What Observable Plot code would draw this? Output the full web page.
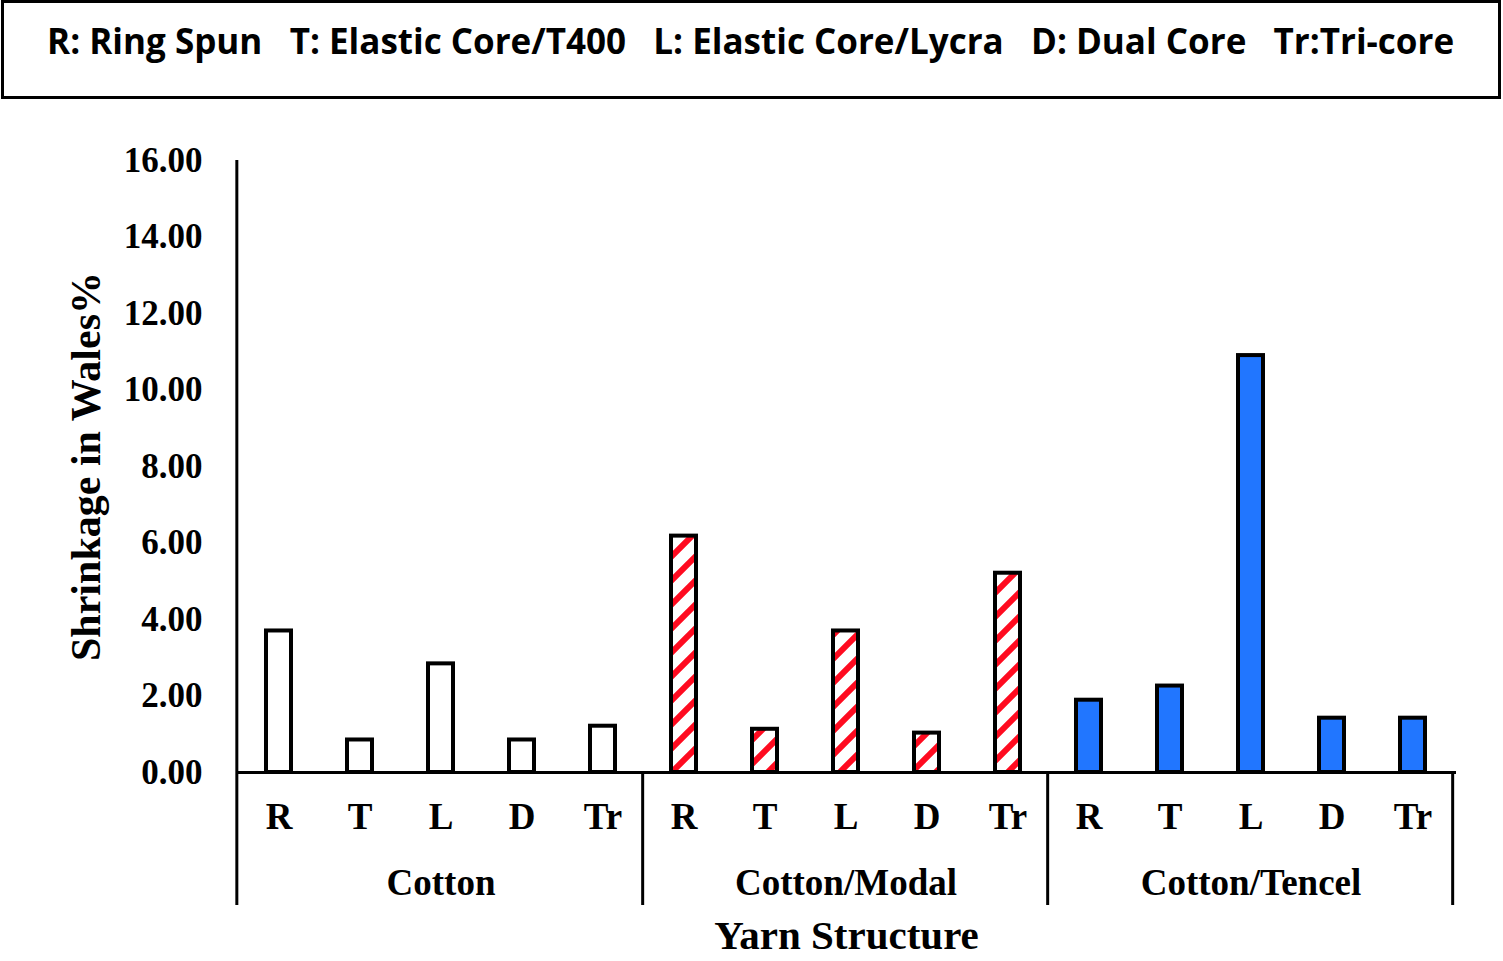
<!DOCTYPE html>
<html>
<head>
<meta charset="utf-8">
<script src="https://cdn.jsdelivr.net/npm/d3@7"></script>
<script src="https://cdn.jsdelivr.net/npm/@observablehq/plot@0.6"></script>
<style>
  html, body { margin: 0; padding: 0; background: #fff; }
  #legend { position: absolute; left: 1px; top: 0px; width: 1500px; height: 99px; border: 3px solid #000; box-sizing: border-box; text-align: center; padding-top: 20px; }
  #legendText { font-family: "Open Sans", "DejaVu Sans", sans-serif; font-weight: 700; font-size: 36px; line-height: 1; white-space: pre; display: inline-block; color: #000; }
  #chart { position: absolute; left: 0; top: 100px; }
</style>
</head>
<body>
<div id="legend"><span id="legendText"></span></div>
<div id="chart"></div>
<script>
const legendItems = ["R: Ring Spun", "T: Elastic Core/T400", "L: Elastic Core/Lycra", "D: Dual Core", "Tr:Tri-core"];
const groups = ["Cotton", "Cotton/Modal", "Cotton/Tencel"];
const structures = ["R", "T", "L", "D", "Tr"];
const cottonValues = [3.70, 0.85, 2.84, 0.85, 1.21];
const modalValues = [6.18, 1.13, 3.70, 1.03, 5.21];
const tencelValues = [1.89, 2.26, 10.90, 1.42, 1.42];
const groupFills = ["white", "url(#modalHatch)", "#2176FF"];
const yTicks = [0, 2, 4, 6, 8, 10, 12, 14, 16];
const yTitle = "Shrinkage in Wales%";
const xTitle = "Yarn Structure";

const seriesValues = [cottonValues, modalValues, tencelValues];
const rows = groups.flatMap((g, gi) => structures.map((s, si) => ({
  key: g + "|" + s, group: g, structure: s, value: seriesValues[gi][si], fill: groupFills[gi]
})));
const keys = rows.map(d => d.key);

document.getElementById("legendText").textContent = legendItems.join("   ");

const W = 1503, H = 861, mL = 236, mR = 47, mT = 60, mB = 189;
const step = (W - mL - mR) / keys.length;

const chart = Plot.plot({
  width: W, height: H,
  marginTop: mT, marginBottom: mB, marginLeft: mL, marginRight: mR,
  style: { fontFamily: "'Liberation Serif', 'Times New Roman', serif", fontWeight: "bold", color: "#000", background: "white", overflow: "visible" },
  x: { domain: keys, paddingInner: 0.69, paddingOuter: 0.345 },
  y: { domain: [0, 16] },
  color: { type: "identity" },
  marks: [
    Plot.axisY({ ticks: yTicks, tickSize: 0, tickPadding: 34, tickFormat: d => d.toFixed(2), fontSize: 35, label: null }),
    Plot.axisX({ tickSize: 0, tickPadding: 30, tickFormat: d => d.split("|")[1], fontSize: 37, label: null }),
    Plot.barY(rows, { x: "key", y: "value", fill: "fill", stroke: "black", strokeWidth: 4 }),
    Plot.ruleY([0], { stroke: "black", strokeWidth: 3 }),
    Plot.ruleX([keys[0]], { x: d => d, dx: -step / 2 - 1.5, y1: 16, y2: 0, insetBottom: -133, stroke: "black", strokeWidth: 3 }),
    Plot.ruleX(groups, { x: g => g + "|Tr", dx: step / 2 - 1, y1: 0, y2: 0, insetBottom: -133, stroke: "black", strokeWidth: 3 }),
    Plot.text(groups, { x: g => g + "|L", y: 0, text: d => d, dy: 111, fontSize: 37 }),
    Plot.text([xTitle], { frameAnchor: "bottom", text: d => d, dy: 163, fontSize: 41, textAnchor: "middle", lineAnchor: "middle" }),
    Plot.text([yTitle], { frameAnchor: "left", text: d => d, dx: -150, rotate: -90, fontSize: 42, textAnchor: "middle", lineAnchor: "middle" })
  ]
});

chart.insertAdjacentHTML("afterbegin",
  '<defs><pattern id="modalHatch" patternUnits="userSpaceOnUse" width="24" height="24">' +
  '<rect width="24" height="24" fill="white"/>' +
  '<path d="M-6,6 L6,-6 M0,24 L24,0 M18,30 L30,18" stroke="#FF0B20" stroke-width="6"/>' +
  '</pattern></defs>');

document.getElementById("chart").appendChild(chart);

const span = document.getElementById("legendText");
const tw = span.getBoundingClientRect().width;
span.style.transform = `scaleX(${1407 / tw})`;
</script>
</body>
</html>
